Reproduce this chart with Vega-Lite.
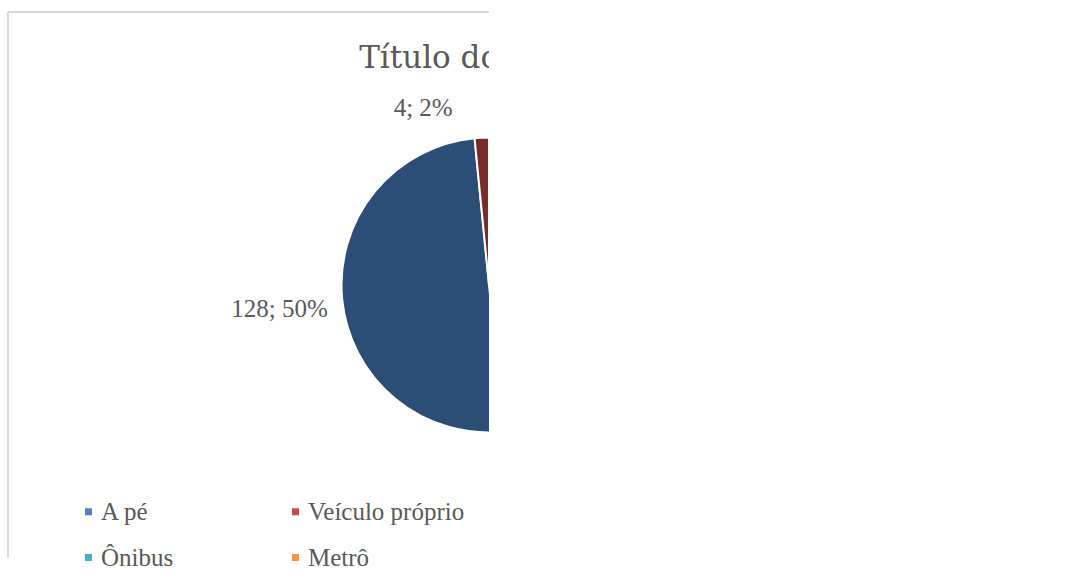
{
  "$schema": "https://vega.github.io/schema/vega-lite/v6.json",
  "width": 481,
  "height": 546,
  "autosize": "none",
  "padding": {"left": 8, "top": 12, "right": 589, "bottom": 21},
  "background": "white",
  "config": {
    "view": {"stroke": "#D9D9D9", "strokeWidth": 2, "strokeDash": [481, 1027, 546, 0]},
    "legend": {
      "orient": "none",
      "direction": "horizontal",
      "legendX": 68,
      "legendY": 487,
      "columns": 2,
      "symbolType": "square",
      "symbolSize": 49,
      "symbolStrokeWidth": 0,
      "symbolOpacity": 1,
      "labelFont": "Liberation Serif",
      "labelFontSize": 25,
      "labelColor": "#595959",
      "labelOffset": 0,
      "labelLimit": 400,
      "columnPadding": 109,
      "rowPadding": 20,
      "padding": 0,
      "title": null
    }
  },
  "datasets": {
    "fatias": [
      {"categoria": "A pé", "valor": 1, "ordem": 1, "rotulo": "1; 0%"},
      {"categoria": "Demais categorias (ocultas)", "valor": 123, "ordem": 2, "rotulo": ""},
      {"categoria": "Série 7", "valor": 128, "ordem": 3, "rotulo": "128; 50%"},
      {"categoria": "Série 8", "valor": 4, "ordem": 4, "rotulo": "4; 2%"}
    ],
    "titulo": [{"texto": "Título do gráfico"}]
  },
  "layer": [
    {
      "data": {"name": "fatias"},
      "mark": {"type": "arc", "radius": 147.5, "stroke": "white", "strokeWidth": 2, "clip": true},
      "encoding": {
        "x": {"value": "width"},
        "theta": {"field": "valor", "type": "quantitative", "stack": true},
        "order": {"field": "ordem", "type": "quantitative"},
        "color": {
          "field": "categoria",
          "type": "nominal",
          "scale": {
            "domain": ["A pé", "Veículo próprio", "Ônibus", "Metrô", "Demais categorias (ocultas)", "Série 7", "Série 8"],
            "range": ["#4F81BD", "#C0504D", "#4BACC6", "#F79646", "#FFFFFF", "#2C4D75", "#772C2A"]
          },
          "legend": {"values": ["A pé", "Veículo próprio", "Ônibus", "Metrô"]}
        }
      }
    },
    {
      "data": {"name": "fatias"},
      "mark": {"type": "text", "radius": 162, "align": "right", "baseline": "alphabetic", "dy": 16, "font": "Liberation Serif", "fontSize": 25, "fill": "#595959", "clip": true},
      "encoding": {
        "x": {"value": "width"},
        "theta": {"field": "valor", "type": "quantitative", "stack": true},
        "order": {"field": "ordem", "type": "quantitative"},
        "detail": {"field": "categoria", "type": "nominal"},
        "text": {"condition": {"test": "datum.categoria === 'Série 7'", "field": "rotulo"}, "value": ""}
      }
    },
    {
      "data": {"name": "fatias"},
      "mark": {"type": "text", "radius": 169, "align": "right", "baseline": "alphabetic", "dx": -28, "font": "Liberation Serif", "fontSize": 25, "fill": "#595959", "clip": true},
      "encoding": {
        "x": {"value": "width"},
        "theta": {"field": "valor", "type": "quantitative", "stack": true},
        "order": {"field": "ordem", "type": "quantitative"},
        "detail": {"field": "categoria", "type": "nominal"},
        "text": {"condition": {"test": "datum.categoria === 'Série 8'", "field": "rotulo"}, "value": ""}
      }
    },
    {
      "data": {"name": "fatias"},
      "mark": {"type": "text", "radius": 168.5, "align": "left", "baseline": "alphabetic", "dx": -2, "font": "Liberation Serif", "fontSize": 25, "fill": "#595959", "clip": true},
      "encoding": {
        "x": {"value": "width"},
        "theta": {"field": "valor", "type": "quantitative", "stack": true},
        "order": {"field": "ordem", "type": "quantitative"},
        "detail": {"field": "categoria", "type": "nominal"},
        "text": {"condition": {"test": "datum.categoria === 'A pé'", "field": "rotulo"}, "value": ""}
      }
    },
    {
      "data": {"name": "titulo"},
      "mark": {"type": "text", "align": "center", "baseline": "alphabetic", "font": "DejaVu Serif", "fontSize": 31, "fill": "#595959", "clip": true},
      "encoding": {
        "x": {"value": "width"},
        "y": {"value": 56},
        "text": {"field": "texto"}
      }
    }
  ]
}
